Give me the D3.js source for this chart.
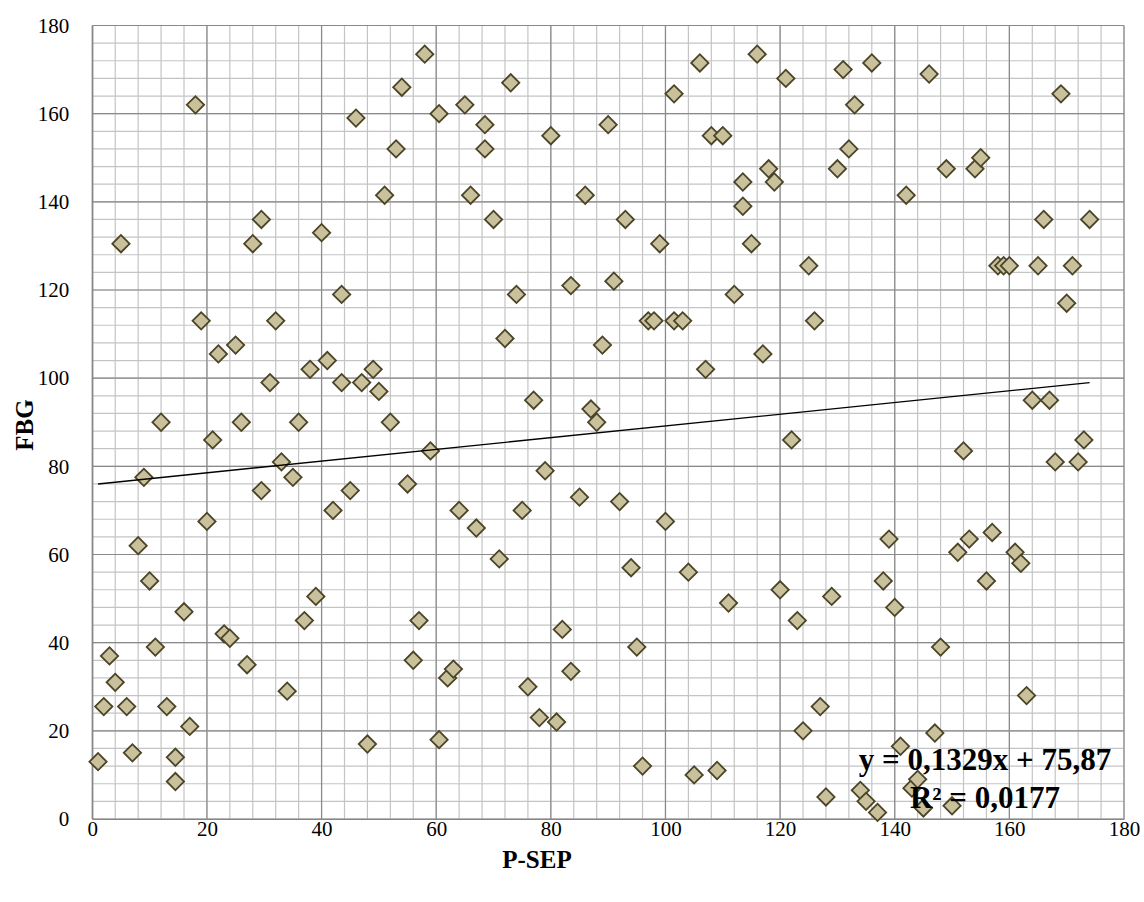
<!DOCTYPE html>
<html>
<head>
<meta charset="utf-8">
<script src="https://cdn.jsdelivr.net/npm/d3@7"></script>
<style>
  body { margin: 0; background: #ffffff; }
  svg { display: block; }
</style>
</head>
<body>
<svg id="chart" width="1144" height="902"></svg>
<script>
// P-SEP rank (x) and FBG rank (y) for each subject
const pSep = [
  1, 2, 3, 4, 5, 6, 7, 8, 9, 10, 11, 12, 13, 14.5, 14.5, 16, 17, 18, 19, 20,
  21, 22, 23, 24, 25, 26, 27, 28, 29.5, 29.5, 31, 32, 33, 34, 35, 36, 37, 38, 39, 40,
  41, 42, 43.5, 43.5, 45, 46, 47, 48, 49, 50, 51, 52, 53, 54, 55, 56, 57, 58, 59, 60.5,
  60.5, 62, 63, 64, 65, 66, 67, 68.5, 68.5, 70, 71, 72, 73, 74, 75, 76, 77, 78, 79, 80,
  81, 82, 83.5, 83.5, 85, 86, 87, 88, 89, 90, 91, 92, 93, 94, 95, 96, 97, 98, 99, 100,
  101.5, 101.5, 103, 104, 105, 106, 107, 108, 109, 110, 111, 112, 113.5, 113.5, 115, 116, 117, 118, 119, 120,
  121, 122, 123, 124, 125, 126, 127, 128, 129, 130, 131, 132, 133, 134, 135, 136, 137, 138, 139, 140,
  141, 142, 143, 144, 145, 146, 147, 148, 149, 150, 151, 152, 153, 154, 155, 156, 157, 158, 159, 160,
  161, 162, 163, 164, 165, 166, 167, 168, 169, 170, 171, 172, 173, 174
];
const fbg = [
  13, 25.5, 37, 31, 130.5, 25.5, 15, 62, 77.5, 54, 39, 90, 25.5, 14, 8.5, 47, 21, 162, 113, 67.5,
  86, 105.5, 42, 41, 107.5, 90, 35, 130.5, 74.5, 136, 99, 113, 81, 29, 77.5, 90, 45, 102, 50.5, 133,
  104, 70, 119, 99, 74.5, 159, 99, 17, 102, 97, 141.5, 90, 152, 166, 76, 36, 45, 173.5, 83.5, 18,
  160, 32, 34, 70, 162, 141.5, 66, 152, 157.5, 136, 59, 109, 167, 119, 70, 30, 95, 23, 79, 155,
  22, 43, 121, 33.5, 73, 141.5, 93, 90, 107.5, 157.5, 122, 72, 136, 57, 39, 12, 113, 113, 130.5, 67.5,
  164.5, 113, 113, 56, 10, 171.5, 102, 155, 11, 155, 49, 119, 144.5, 139, 130.5, 173.5, 105.5, 147.5, 144.5, 52,
  168, 86, 45, 20, 125.5, 113, 25.5, 5, 50.5, 147.5, 170, 152, 162, 6.5, 4, 171.5, 1.5, 54, 63.5, 48,
  16.5, 141.5, 7, 9, 2.5, 169, 19.5, 39, 147.5, 3, 60.5, 83.5, 63.5, 147.5, 150, 54, 65, 125.5, 125.5, 125.5,
  60.5, 58, 28, 95, 125.5, 136, 95, 81, 164.5, 117, 125.5, 81, 86, 136
];

const xTicks = [0, 20, 40, 60, 80, 100, 120, 140, 160, 180];
const yTicks = [0, 20, 40, 60, 80, 100, 120, 140, 160, 180];
const minorStep = 4;

// linear trend line as reported on the chart
const trendSlope = 0.1329;
const trendIntercept = 75.87;
const trendRange = [1, 174];
const equationLines = ["y = 0,1329x + 75,87", "R\u00b2 = 0,0177"];

const svg = d3.select("#chart");
const plot = { left: 92.3, right: 1124, top: 25.5, bottom: 819 };

const x = d3.scaleLinear().domain([0, 180]).range([plot.left, plot.right]);
const y = d3.scaleLinear().domain([0, 180]).range([plot.bottom, plot.top]);

const serif = "'Liberation Serif', 'Times New Roman', serif";

// minor grid
const minorVals = d3.range(0, 180 + 0.001, minorStep);
const gGrid = svg.append("g");
gGrid.selectAll("line.vmin").data(minorVals).join("line")
  .attr("x1", d => x(d)).attr("x2", d => x(d))
  .attr("y1", plot.top).attr("y2", plot.bottom)
  .attr("stroke", "#c4c4c4").attr("stroke-width", 1.2);
gGrid.selectAll("line.hmin").data(minorVals).join("line")
  .attr("y1", d => y(d)).attr("y2", d => y(d))
  .attr("x1", plot.left).attr("x2", plot.right)
  .attr("stroke", "#c4c4c4").attr("stroke-width", 1.2);

// major grid
gGrid.selectAll("line.vmaj").data(xTicks).join("line")
  .attr("x1", d => x(d)).attr("x2", d => x(d))
  .attr("y1", plot.top).attr("y2", plot.bottom)
  .attr("stroke", "#8a8a8a").attr("stroke-width", 1.2);
gGrid.selectAll("line.hmaj").data(yTicks).join("line")
  .attr("y1", d => y(d)).attr("y2", d => y(d))
  .attr("x1", plot.left).attr("x2", plot.right)
  .attr("stroke", "#8a8a8a").attr("stroke-width", 1.2);

// axes
const xAxis = d3.axisBottom(x).tickValues(xTicks).tickSize(0).tickPadding(2);
const yAxis = d3.axisLeft(y).tickValues(yTicks).tickSize(0).tickPadding(23);

const gx = svg.append("g").attr("transform", `translate(0,${plot.bottom})`).call(xAxis);
const gy = svg.append("g").attr("transform", `translate(${plot.left},0)`).call(yAxis);
[gx, gy].forEach(g => {
  g.select(".domain").attr("stroke", "#868686").attr("stroke-width", 1.2);
  g.selectAll(".tick text").attr("font-family", serif).attr("font-size", 21).attr("fill", "#000");
});

// data points: square markers rotated into diamonds
const diamond = d3.symbol().type(d3.symbolSquare).size(150);
svg.append("g").selectAll("path").data(pSep.map((v, i) => [v, fbg[i]])).join("path")
  .attr("d", diamond)
  .attr("transform", d => `translate(${x(d[0])},${y(d[1])}) rotate(45)`)
  .attr("fill", "#c9c19b")
  .attr("stroke", "#4b4428")
  .attr("stroke-width", 1.8);

// trend line
svg.append("line")
  .attr("x1", x(trendRange[0])).attr("y1", y(trendSlope * trendRange[0] + trendIntercept))
  .attr("x2", x(trendRange[1])).attr("y2", y(trendSlope * trendRange[1] + trendIntercept))
  .attr("stroke", "#000").attr("stroke-width", 1.4);

// equation label
const eq = svg.append("text")
  .attr("font-family", serif).attr("font-size", 31).attr("font-weight", "bold")
  .attr("text-anchor", "middle").attr("fill", "#000");
eq.selectAll("tspan").data(equationLines).join("tspan")
  .attr("x", 985).attr("y", (d, i) => 770 + i * 38)
  .text(d => d);

// axis titles
svg.append("text")
  .attr("x", 537).attr("y", 868)
  .attr("text-anchor", "middle")
  .attr("font-family", serif).attr("font-size", 25).attr("font-weight", "bold")
  .text("P-SEP");
svg.append("text")
  .attr("transform", `translate(33,425) rotate(-90)`)
  .attr("text-anchor", "middle")
  .attr("font-family", serif).attr("font-size", 25).attr("font-weight", "bold")
  .text("FBG");
</script>
</body>
</html>
